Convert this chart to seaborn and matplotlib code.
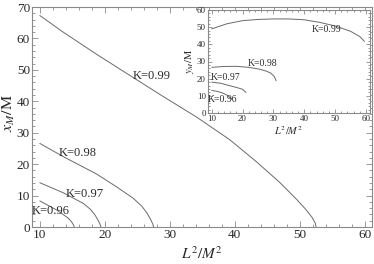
import matplotlib
matplotlib.use("Agg")
import matplotlib.pyplot as plt
import seaborn as sns
import pandas as pd
from matplotlib.ticker import MultipleLocator

# ---- data ----
k_labels = ["K=0.99", "K=0.98", "K=0.97", "K=0.96"]

# main panel: x_M/M vs L^2/M^2
main_x_099 = [10.0, 13.6, 18.7, 23.8, 29.0, 34.1, 39.2, 43.3, 46.9, 49.5, 51.0, 51.9, 52.4, 52.5]
main_y_099 = [67.3, 62.0, 55.0, 48.3, 41.5, 35.0, 27.8, 20.8, 14.2, 8.8, 5.4, 3.0, 1.1, 0.0]
main_x_098 = [10.0, 13.6, 18.7, 21.8, 24.4, 25.7, 26.5, 27.1, 27.4, 27.5]
main_y_098 = [26.6, 22.4, 16.9, 12.8, 9.1, 6.6, 4.4, 2.2, 0.8, 0.0]
main_x_097 = [10.0, 13.6, 16.7, 17.8, 18.5, 19.0, 19.3, 19.4]
main_y_097 = [14.1, 10.9, 7.5, 5.6, 3.8, 2.0, 0.7, 0.0]
main_x_096 = [10.0, 12.6, 14.4, 14.9, 15.2, 15.3]
main_y_096 = [8.3, 5.4, 2.8, 1.6, 0.6, 0.0]
main_label_x = [27.2, 15.9, 16.9, 11.6]
main_label_y = [48.1, 23.4, 10.5, 5.2]

# inset: y_M/M vs L^2/M^2
ins_x_099 = [10, 15, 20, 25, 30, 35, 40, 45, 50, 55, 58, 59.5]
ins_y_099 = [49.0, 52.0, 53.8, 54.5, 54.8, 54.8, 54.3, 52.8, 50.7, 47.6, 44.5, 41.7]
ins_x_098 = [10, 14, 18, 22, 25.3, 27.5, 29.1, 30.3, 30.9]
ins_y_098 = [26.6, 27.1, 27.2, 26.6, 25.6, 24.5, 23.3, 21.2, 18.8]
ins_x_097 = [10, 13, 15.8, 18, 20, 21.1]
ins_y_097 = [18.0, 17.3, 15.9, 14.9, 13.8, 12.0]
ins_x_096 = [10, 12, 13.6, 15.2, 16.5]
ins_y_096 = [13.2, 12.5, 11.6, 10.2, 8.0]
ins_label_x = [47.3, 26.4, 14.6, 13.6]
ins_label_y = [48.5, 28.7, 20.4, 7.7]

x_ticks = [10, 20, 30, 40, 50, 60]
main_y_ticks = [0, 10, 20, 30, 40, 50, 60, 70]
ins_y_ticks = [0, 10, 20, 30, 40, 50, 60]

# ---- style ----
sns.set_theme(style="ticks")
plt.rcParams['font.family'] = ['Liberation Serif', 'DejaVu Serif']
plt.rcParams['mathtext.fontset'] = 'stix'

spine_c = '#8a8a8a'
line_c = '#6a6a6a'
text_c = '#2a2a2a'

fig = plt.figure(figsize=(3.74, 2.64), dpi=100)
ax = fig.add_axes([32/374, 1-227/264, 340/374, 220/264])
axi = fig.add_axes([208/374, 1-113/264, 162/374, 103/264])


def style_axes(a, fs, maj, mnr):
    for s in a.spines.values():
        s.set_color(spine_c)
        s.set_linewidth(0.8)
    a.xaxis.set_minor_locator(MultipleLocator(2))
    a.yaxis.set_minor_locator(MultipleLocator(2))
    a.tick_params(which='both', direction='in', top=True, right=True,
                  color=spine_c, width=0.6, labelsize=fs, labelcolor=text_c, pad=1.5)
    a.tick_params(which='major', length=maj)
    a.tick_params(which='minor', length=mnr)


def draw(a, xs, ys, lw):
    df = pd.DataFrame({'x': xs, 'y': ys})
    sns.lineplot(data=df, x='x', y='y', sort=False, estimator=None, ax=a,
                 color=line_c, linewidth=lw)


main_sets = [(main_x_099, main_y_099), (main_x_098, main_y_098),
             (main_x_097, main_y_097), (main_x_096, main_y_096)]
for xs, ys in main_sets:
    draw(ax, xs, ys, 0.7)
for lab, lx, ly in zip(k_labels, main_label_x, main_label_y):
    ax.text(lx, ly, lab, fontsize=9, color=text_c, ha='center', va='center')

ax.set_xlim(8.8, 61.1)
ax.set_ylim(0, 70)
ax.set_xticks(x_ticks)
ax.set_yticks(main_y_ticks)
style_axes(ax, 9.5, 4, 2)
ax.set_xlabel(r'$L^2/M^2$', fontsize=11, color=text_c, labelpad=3)
ax.set_ylabel(r'$x_M/\mathrm{M}$', fontsize=11.5, color=text_c)
ax.yaxis.set_label_coords(-0.043, 0.52)

ins_sets = [(ins_x_099, ins_y_099), (ins_x_098, ins_y_098),
            (ins_x_097, ins_y_097), (ins_x_096, ins_y_096)]
for xs, ys in ins_sets:
    draw(axi, xs, ys, 0.7)
for lab, lx, ly in zip(k_labels, ins_label_x, ins_label_y):
    axi.text(lx, ly, lab, fontsize=7, color=text_c, ha='center', va='center')

axi.set_facecolor('white')
axi.set_xlim(8.8, 61.3)
axi.set_ylim(0, 60)
axi.set_xticks(x_ticks)
axi.set_yticks(ins_y_ticks)
style_axes(axi, 6.5, 3, 1.5)
axi.set_xlabel(r'$L^2/M^2$', fontsize=7.5, color=text_c, labelpad=1)
axi.set_ylabel(r'$y_M/\mathrm{M}$', fontsize=7.5, color=text_c, labelpad=1)

fig.savefig('out.png', dpi=100)
